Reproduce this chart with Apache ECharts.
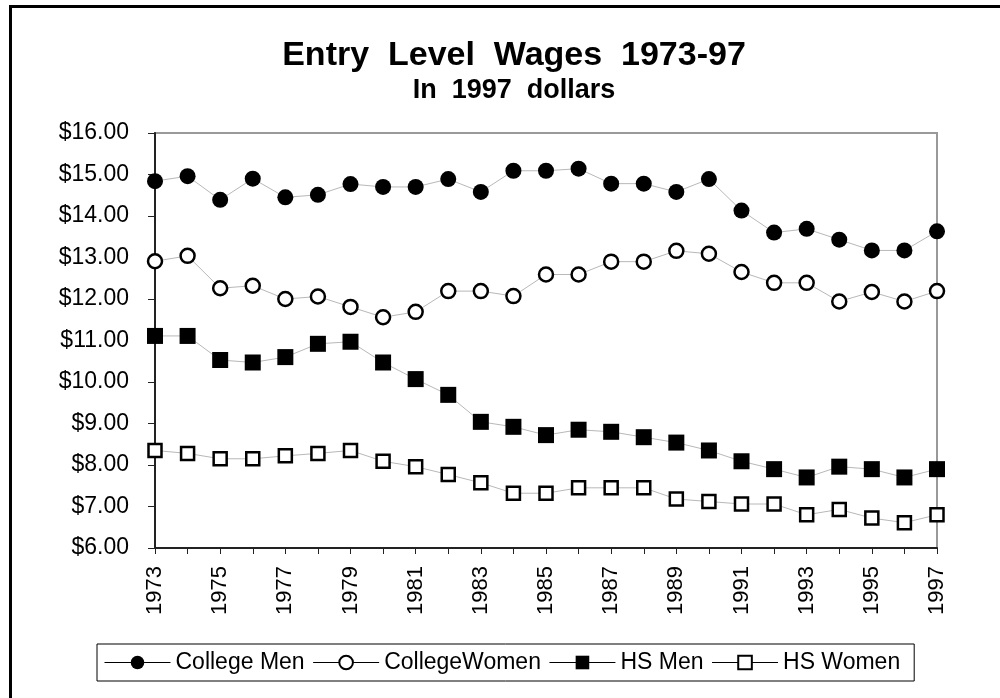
<!DOCTYPE html>
<html>
<head>
<meta charset="utf-8">
<script src="https://cdn.jsdelivr.net/npm/echarts@6/dist/echarts.min.js"></script>
<style>
  html, body { margin: 0; padding: 0; background: #fff; }
  #chart { width: 1000px; height: 698px; }
</style>
</head>
<body>
<div id="chart"></div>
<script>
// data
const years = ['1973', '1974', '1975', '1976', '1977', '1978', '1979', '1980', '1981', '1982', '1983', '1984',
  '1985', '1986', '1987', '1988', '1989', '1990', '1991', '1992', '1993', '1994', '1995', '1996', '1997'];
const collegeMen = [14.84, 14.96, 14.39, 14.90, 14.45, 14.51, 14.77, 14.70, 14.70, 14.89, 14.58, 15.09,
  15.09, 15.14, 14.78, 14.78, 14.58, 14.89, 14.13, 13.60, 13.69, 13.43, 13.17, 13.17, 13.63];
const collegeWomen = [12.91, 13.04, 12.26, 12.32, 12.00, 12.06, 11.81, 11.56, 11.69, 12.19, 12.19, 12.07,
  12.59, 12.59, 12.90, 12.90, 13.16, 13.09, 12.65, 12.39, 12.39, 11.94, 12.17, 11.94, 12.19];
const hsMen = [11.11, 11.11, 10.53, 10.47, 10.60, 10.92, 10.97, 10.47, 10.07, 9.69, 9.04, 8.92,
  8.72, 8.85, 8.80, 8.67, 8.54, 8.35, 8.09, 7.90, 7.70, 7.96, 7.90, 7.70, 7.90];
const hsWomen = [8.35, 8.28, 8.15, 8.15, 8.22, 8.28, 8.35, 8.09, 7.96, 7.77, 7.57, 7.32,
  7.32, 7.45, 7.45, 7.45, 7.18, 7.12, 7.06, 7.06, 6.80, 6.93, 6.72, 6.61, 6.80];

const font = 'Liberation Sans, Arial, sans-serif';

const chart = echarts.init(document.getElementById('chart'));

function line (name, data, symbol, size, filled) {
  return {
    name: name,
    type: 'line',
    data: data,
    symbol: symbol,
    symbolSize: size,
    showAllSymbol: true,
    lineStyle: { color: '#b8b8b8', width: 1 },
    itemStyle: filled
      ? { color: '#000', borderWidth: 0 }
      : { color: '#fff', borderColor: '#000', borderWidth: 2.5 },
    emphasis: { disabled: true },
    animation: false
  };
}

const option = {
  backgroundColor: '#fff',
  title: {
    text: 'Entry  Level  Wages  1973-97',
    subtext: 'In  1997  dollars',
    left: 509,
    textAlign: 'center',
    top: 34,
    itemGap: 4,
    textStyle: { fontFamily: font, fontSize: 34, fontWeight: 'bold', color: '#000' },
    subtextStyle: { fontFamily: font, fontSize: 27, fontWeight: 'bold', color: '#000' }
  },
  graphic: [{
    type: 'rect',
    shape: { x: 10.5, y: 6.5, width: 1000, height: 700 },
    style: { fill: 'none', stroke: '#000', lineWidth: 3 },
    silent: true
  }],
  legend: {
    left: 97,
    top: 644,
    padding: [7, 14, 7, 7],
    itemGap: 8,
    itemWidth: 66,
    itemHeight: 17,
    borderColor: '#000',
    borderWidth: 1,
    lineStyle: { color: '#000', width: 1 },
    textStyle: { fontFamily: font, fontSize: 23, color: '#000' },
    data: ['College Men', 'CollegeWomen', 'HS Men', 'HS Women']
  },
  grid: {
    left: 155,
    right: 63,
    top: 133,
    bottom: 150,
    show: true,
    borderColor: '#999',
    borderWidth: 2
  },
  xAxis: {
    type: 'category',
    data: years,
    boundaryGap: false,
    axisLine: { lineStyle: { color: '#222', width: 2 } },
    axisTick: { show: true, interval: 0, length: 6, lineStyle: { color: '#222' } },
    axisLabel: {
      interval: 1,
      rotate: 90,
      margin: 18,
      fontFamily: font,
      fontSize: 22,
      color: '#000'
    },
    splitLine: { show: false }
  },
  yAxis: {
    type: 'value',
    min: 6,
    max: 16,
    interval: 1,
    axisLine: { show: true, lineStyle: { color: '#222', width: 2 } },
    axisTick: { show: true, length: 7, lineStyle: { color: '#222' } },
    axisLabel: {
      margin: 26,
      fontFamily: font,
      fontSize: 23,
      color: '#000',
      formatter: function (v) { return '$' + v.toFixed(2); }
    },
    splitLine: { show: false }
  },
  series: [
    line('College Men', collegeMen, 'circle', 16, true),
    line('CollegeWomen', collegeWomen, 'circle', 14, false),
    line('HS Men', hsMen, 'rect', 16, true),
    line('HS Women', hsWomen, 'rect', 13, false)
  ]
};

chart.setOption(option);
</script>
</body>
</html>
